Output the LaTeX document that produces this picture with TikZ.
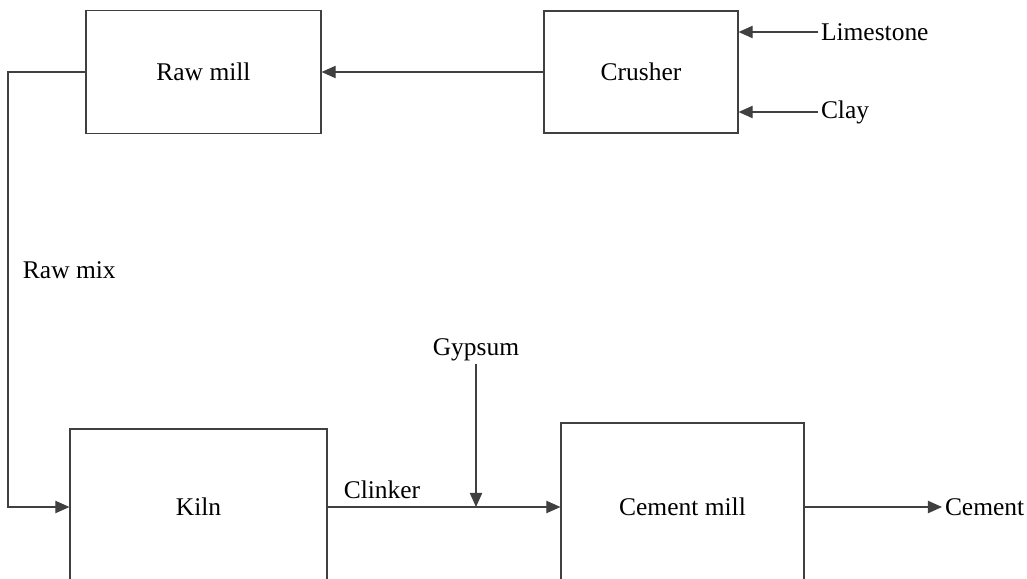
\documentclass[tikz,border=0pt]{standalone}
\usepackage{fontspec}
\setmainfont{Liberation Serif}
\usetikzlibrary{arrows.meta}
\begin{document}
\begin{tikzpicture}[x=0.02cm, y=-0.02cm, font=\fontsize{14.5}{17}\selectfont,
    unit/.style={draw=black!75, line width=0.7pt, inner sep=0pt},
    tag/.style={inner sep=1.5pt},
    flow/.style={draw=black!75, line width=0.7pt, -{Triangle[length=8pt,width=7pt]}}]
            \useasboundingbox (0,0) rectangle (1027,578);
            \clip (0,0) rectangle (1027,578);
            % units
            \node[unit, minimum width=4.7cm, minimum height=2.46cm] (rawmill) at (203.5,72) {Raw mill};
            \node[unit, minimum width=3.88cm, minimum height=2.44cm] (crusher) at (641,72) {Crusher};
            \node[unit, minimum width=5.14cm, minimum height=3.12cm] (kiln) at (198.5,507) {Kiln};
            \node[unit, minimum width=4.86cm, minimum height=3.36cm] (cementmill) at (682.5,507) {Cement mill};
            % inputs and outputs
            \node[tag, anchor=west] (limestone) at (818,32) {Limestone};
            \node[tag, anchor=west] (clay) at (818,112) {Clay};
            \node[tag, anchor=west] (rawmix) at (20,270) {Raw mix};
            \node[tag] (gypsum) at (476,350) {Gypsum};
            \node[tag] (clinker) at (382,490) {Clinker};
            \node[tag, anchor=west] (cement) at (942,507) {Cement};
            \coordinate (bend) at (8,72);
            \coordinate (joint) at (476,507);
            % flows
            \draw[flow] (limestone.west) -- (limestone.west -| crusher.east);
            \draw[flow] (clay.west) -- (clay.west -| crusher.east);
            \draw[flow] (crusher.west) -- (rawmill.east);
            \draw[flow] (rawmill.west) -- (bend) |- (kiln.west);
            \draw[flow] (kiln.east) -- (cementmill.west);
            \draw[flow] (gypsum.south) -- (joint);
            \draw[flow] (cementmill.east) -- (cement.west);
        \end{tikzpicture}
\end{document}
